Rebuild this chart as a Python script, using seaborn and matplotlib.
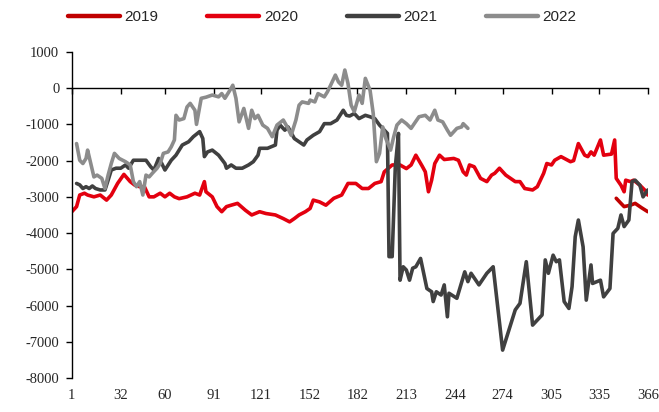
import matplotlib
matplotlib.use("Agg")
import matplotlib.pyplot as plt
import seaborn as sns

# day-of-year positions and values
days_2019 = [346, 349, 351, 355, 358, 362, 366]
vals_2019 = [-3040, -3180, -3270, -3230, -3180, -3300, -3410]

days_2020 = [1, 4, 6, 9, 11, 15, 19, 23, 26, 30, 34, 38, 41, 44, 47, 50, 53, 57, 60, 63,
             66, 69, 74, 79, 82, 85, 86, 90, 93, 96, 99, 102, 106, 111, 115, 120, 124, 130,
             135, 139, 142, 145, 149, 152, 154, 158, 162, 167, 172, 176, 181, 185, 189, 193,
             197, 199, 204, 209, 213, 216, 219, 223, 225, 227, 229, 231, 234, 237, 243, 246,
             249, 251, 253, 256, 260, 264, 267, 269, 272, 276, 282, 285, 288, 293, 296, 300,
             302, 305, 307, 311, 317, 319, 322, 326, 328, 330, 332, 336, 338, 343, 345, 346,
             349, 351, 352, 355, 357, 361, 364, 366]
vals_2020 = [-3410, -3270, -2950, -2900, -2950, -3000, -2950, -3090, -2950, -2630, -2380,
             -2580, -2680, -2720, -2720, -3000, -3000, -2900, -3000, -2900, -3000, -3050,
             -3000, -2900, -2950, -2580, -2860, -3000, -3270, -3410, -3270, -3230, -3180,
             -3370, -3500, -3410, -3460, -3500, -3600, -3690, -3600, -3500, -3410, -3320,
             -3090, -3140, -3230, -3040, -2950, -2630, -2630, -2770, -2770, -2630, -2580,
             -2310, -2120, -2120, -2220, -2120, -1850, -2150, -2310, -2860, -2540, -2080,
             -1850, -1970, -1940, -1990, -2310, -2400, -2120, -2170, -2490, -2580, -2400,
             -2350, -2210, -2400, -2580, -2580, -2770, -2810, -2720, -2350, -2080, -2120,
             -1990, -1890, -2030, -2000, -1530, -1850, -1890, -1760, -1850, -1430, -1850,
             -1820, -1430, -2490, -2680, -2860, -2540, -2580, -2540, -2680, -2810, -2950]

days_2021 = [4, 6, 8, 10, 12, 14, 16, 19, 22, 24, 26, 29, 32, 35, 37, 40, 45, 48, 51, 53,
             56, 58, 60, 64, 67, 69, 71, 75, 78, 82, 84, 85, 87, 90, 94, 98, 99, 102, 105,
             109, 113, 116, 119, 120, 125, 130, 131, 133, 136, 138, 142, 145, 148, 150, 154,
             158, 161, 165, 169, 173, 175, 177, 180, 183, 187, 190, 193, 196, 201, 202, 204,
             206, 208, 209, 211, 213, 215, 217, 219, 222, 226, 229, 230, 232, 235, 237, 239,
             240, 245, 250, 252, 254, 259, 264, 268, 274, 282, 285, 289, 293, 299, 301, 303,
             306, 308, 310, 313, 316, 318, 320, 322, 325, 327, 330, 331, 336, 338, 342, 344,
             347, 349, 351, 354, 356, 358, 361, 363, 366]
vals_2021 = [-2630, -2670, -2770, -2720, -2770, -2700, -2770, -2810, -2810, -2540, -2260,
             -2210, -2210, -2120, -2210, -1990, -1990, -1990, -2170, -2260, -1940, -2080,
             -2260, -1990, -1850, -1710, -1570, -1480, -1340, -1200, -1390, -1890, -1760,
             -1710, -1850, -2080, -2210, -2120, -2210, -2210, -2120, -2030, -1850, -1660,
             -1660, -1570, -1160, -1020, -1160, -1070, -1390, -1480, -1570, -1430, -1300,
             -1200, -980, -980, -880, -610, -750, -770, -700, -840, -750, -790, -840, -1020,
             -1250, -4650, -4650, -2170, -1250, -5300, -4930, -5020, -5300, -4970, -4930,
             -4700, -5530, -5620, -5890, -5620, -5710, -5430, -6310, -5660, -5800, -5070,
             -5340, -5110, -5430, -5110, -4930, -7230, -6120, -5940, -4790, -6540, -6260,
             -4740, -5110, -4610, -4790, -4740, -5890, -6080, -5480, -4100, -3640, -4380,
             -5850, -4880, -5390, -5300, -5760, -5530, -4010, -3870, -3500, -3820, -3640,
             -2580, -2540, -2680, -3000, -2810]

days_2022 = [4, 6, 8, 10, 11, 13, 15, 17, 20, 22, 24, 26, 28, 31, 35, 38, 40, 42, 44, 46,
             48, 50, 52, 55, 57, 59, 62, 64, 66, 67, 69, 72, 74, 76, 79, 80, 83, 86, 90, 94,
             96, 98, 102, 103, 105, 107, 110, 113, 115, 117, 119, 122, 125, 128, 131, 135,
             138, 140, 143, 145, 147, 151, 152, 155, 157, 161, 163, 165, 168, 170, 172, 174,
             176, 178, 180, 183, 185, 187, 190, 192, 194, 196, 198, 200, 203, 205, 207, 210,
             213, 216, 218, 221, 225, 228, 231, 233, 236, 239, 241, 245, 248, 249, 252]
vals_2022 = [-1530, -1990, -2080, -1940, -1710, -2080, -2450, -2400, -2490, -2770, -2400,
             -2080, -1800, -1940, -2030, -2120, -2580, -2720, -2580, -2950, -2400, -2450,
             -2350, -2210, -2080, -1800, -1760, -1620, -1430, -750, -880, -840, -520, -420,
             -610, -1000, -280, -250, -190, -240, -150, -280, 0, 80, -280, -930, -560, -1110,
             -610, -840, -750, -1020, -1110, -1340, -1020, -880, -1110, -1300, -880, -470,
             -380, -420, -330, -380, -150, -240, -100, 80, 360, 170, 80, 500, 130, -470, -650,
             -190, -420, 270, -60, -700, -2030, -1800, -1070, -1390, -1710, -1340, -1020, -880,
             -980, -1110, -980, -790, -750, -880, -610, -880, -930, -1160, -1300, -1110, -1070,
             -980, -1110]

x_ticks = [1, 32, 60, 91, 121, 152, 182, 213, 244, 274, 305, 335, 366]
y_ticks = list(range(-8000, 1001, 1000))

series = [
    ("2019", days_2019, vals_2019, "#C00000"),
    ("2020", days_2020, vals_2020, "#E3000F"),
    ("2021", days_2021, vals_2021, "#404040"),
    ("2022", days_2022, vals_2022, "#8C8C8C"),
]

sns.set_style("white")
plt.rcParams["font.family"] = ["Liberation Serif", "DejaVu Serif"]

fig = plt.figure(figsize=(6.59, 4.12), dpi=100)
ax = fig.add_axes([0.109, 0.0825, 0.874, 0.7915])

for name, d, v, c in series:
    sns.lineplot(x=d, y=v, ax=ax, color=c, linewidth=2.6, label=name,
                 sort=False, estimator=None)

ax.set_xlim(1, 366)
ax.set_ylim(-8000, 1000)
ax.set_yticks(y_ticks)
ax.set_yticklabels([str(t) for t in y_ticks])
ax.set_xticks(x_ticks)
ax.set_xticklabels([str(t) for t in x_ticks])

for s in ["top", "right", "bottom"]:
    ax.spines[s].set_visible(False)
ax.spines["left"].set_color("black")
ax.spines["left"].set_linewidth(1.0)
ax.tick_params(axis="y", direction="out", length=4, width=1, color="black",
               pad=5, labelsize=10.5, left=True)
ax.tick_params(axis="x", length=0, pad=8, labelsize=10.5, bottom=True)

# horizontal axis line with ticks at y = 0
y0, y1 = ax.get_ylim()
sec = ax.secondary_xaxis((0 - y0) / (y1 - y0))
sec.set_xticks(x_ticks)
sec.tick_params(axis="x", direction="in", length=4, width=1, color="black",
                labeltop=False, labelbottom=False)
for sp in sec.spines.values():
    sp.set_linewidth(1.0)
    sp.set_color("black")

leg = ax.legend(loc="center", bbox_to_anchor=(0.489, 0.958),
                bbox_transform=fig.transFigure, ncol=4, frameon=False,
                handlelength=3.4, handletextpad=0.3, columnspacing=3.2,
                prop={"family": ["Liberation Sans", "DejaVu Sans"], "size": 11})
for line in leg.get_lines():
    line.set_linewidth(3.2)

fig.savefig("out.png", dpi=100)
